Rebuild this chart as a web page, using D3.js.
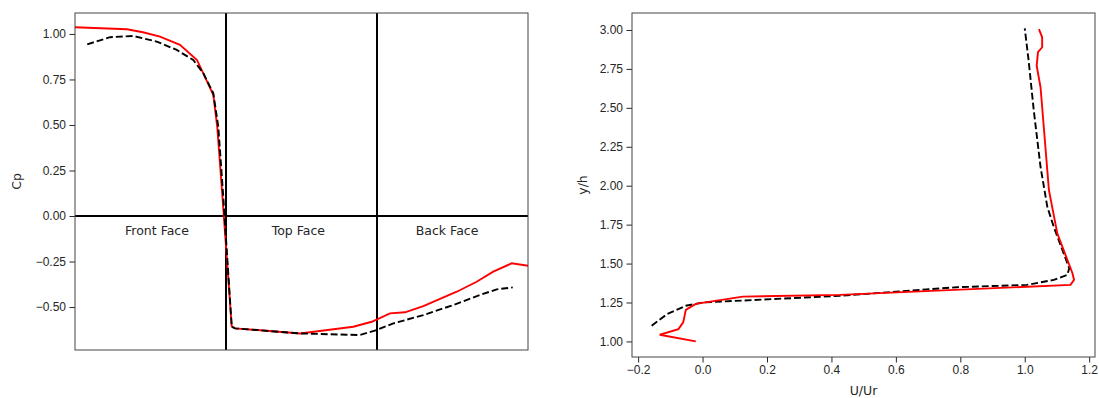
<!DOCTYPE html>
<meta charset="utf-8">
<style>
body { margin: 0; background: #fff; }
svg { font-family: "DejaVu Sans", sans-serif; }
.tick text { font-size: 12px; fill: #262626; }
.tick line { stroke: #262626; }
.domain { display: none; }
.frame { fill: none; stroke: #444; stroke-width: 1; }
.cut { stroke: #000; stroke-width: 2; }
.red { fill: none; stroke: #ff0000; stroke-width: 1.9; }
.blk { fill: none; stroke: #000; stroke-width: 1.9; stroke-dasharray: 6.9,3; }
.lbl { font-size: 12.5px; fill: #262626; }
</style>
<body>
<script src="https://d3js.org/d3.v7.min.js"></script>
<script>

// left panel: pressure coefficient along the building (0-1 front, 1-2 top, 2-3 back)
var cpRedS   = [0.0, 0.344, 0.45, 0.563, 0.695, 0.808, 0.916, 0.942, 0.978, 1.038, 1.06, 1.49, 1.843, 1.965, 2.086, 2.185, 2.307, 2.528, 2.66, 2.77, 2.892, 3.0];
var cpRed    = [1.037, 1.026, 1.009, 0.985, 0.94, 0.857, 0.665, 0.49, 0.088, -0.608, -0.617, -0.645, -0.608, -0.581, -0.535, -0.529, -0.495, -0.416, -0.361, -0.306, -0.26, -0.273];
var cpBlackS = [0.081, 0.232, 0.386, 0.541, 0.674, 0.783, 0.85, 0.916, 0.949, 0.982, 1.038, 1.06, 1.49, 1.887, 1.998, 2.108, 2.307, 2.505, 2.682, 2.793, 2.899];
var cpBlack  = [0.943, 0.982, 0.989, 0.958, 0.912, 0.857, 0.784, 0.674, 0.49, 0.106, -0.608, -0.617, -0.645, -0.654, -0.626, -0.59, -0.544, -0.489, -0.434, -0.403, -0.392];
var faceEdges = [1, 2];
var faceNames = ["Front Face", "Top Face", "Back Face"];
var faceLabelS = [0.543, 1.479, 2.464];
var faceLabelCp = -0.08;
var cpTicks = [-0.5, -0.25, 0, 0.25, 0.5, 0.75, 1.0];

// right panel: velocity profile
var uRed   = [-0.021, -0.133, -0.075, -0.06, -0.052, -0.021, 0.125, 0.426, 1.142, 1.153, 1.148, 1.101, 1.075, 1.049, 1.037, 1.041, 1.054, 1.054, 1.044];
var yhRed  = [1.0, 1.043, 1.079, 1.122, 1.203, 1.241, 1.288, 1.299, 1.363, 1.395, 1.438, 1.694, 1.971, 2.632, 2.771, 2.857, 2.889, 2.953, 3.006];
var uBlack  = [-0.158, -0.109, -0.052, -0.021, 0.0, 0.426, 0.789, 1.007, 1.09, 1.132, 1.138, 1.09, 1.07, 1.049, 1.028, 1.012, 1.0];
var yhBlack = [1.101, 1.177, 1.229, 1.241, 1.25, 1.293, 1.348, 1.363, 1.395, 1.427, 1.47, 1.736, 1.864, 2.12, 2.483, 2.803, 3.01];
var uTicks  = [-0.2, 0, 0.2, 0.4, 0.6, 0.8, 1.0, 1.2];
var yhTicks = [1.0, 1.25, 1.5, 1.75, 2.0, 2.25, 2.5, 2.75, 3.0];

var svg = d3.select("body").append("svg")
    .attr("width", 1099)
    .attr("height", 398);

var minus = function(s) { return s.replace("-", "\u2212"); };

function zip(xs, ys) {
  return xs.map(function(x, i) { return [x, ys[i]]; });
}

// ---- left panel
var L = {left: 75, right: 528, top: 13, bottom: 350};
var xL = d3.scaleLinear().domain([0, 3]).range([L.left, L.right]);
var yL = d3.scaleLinear().domain([-0.736, 1.115]).range([L.bottom, L.top]);

var gL = svg.append("g");

gL.append("g")
    .attr("transform", "translate(" + L.left + ",0)")
    .call(d3.axisLeft(yL).tickValues(cpTicks).tickSize(5.5).tickPadding(3.5)
      .tickFormat(function(d) { return minus(d3.format(".2f")(d)); }));

var lineL = d3.line()
    .x(function(d) { return xL(d[0]); })
    .y(function(d) { return yL(d[1]); });

gL.append("line").attr("class", "cut")
    .attr("x1", L.left).attr("x2", L.right)
    .attr("y1", yL(0)).attr("y2", yL(0));

gL.selectAll("line.v").data(faceEdges).enter().append("line")
    .attr("class", "cut v")
    .attr("x1", function(d) { return xL(d); }).attr("x2", function(d) { return xL(d); })
    .attr("y1", L.top).attr("y2", L.bottom);

gL.selectAll("text.face").data(faceNames).enter().append("text")
    .attr("class", "lbl face")
    .attr("x", function(d, i) { return xL(faceLabelS[i]); })
    .attr("y", yL(faceLabelCp))
    .attr("text-anchor", "middle")
    .attr("dominant-baseline", "central")
    .text(function(d) { return d; });

gL.append("path").datum(zip(cpRedS, cpRed)).attr("class", "red").attr("d", lineL);
gL.append("path").datum(zip(cpBlackS, cpBlack)).attr("class", "blk").attr("d", lineL);

gL.append("rect").attr("class", "frame")
    .attr("x", L.left).attr("y", L.top)
    .attr("width", L.right - L.left).attr("height", L.bottom - L.top);

gL.append("text").attr("class", "lbl")
    .attr("transform", "translate(16," + (L.top + L.bottom) / 2 + ") rotate(-90)")
    .attr("text-anchor", "middle")
    .attr("dominant-baseline", "central")
    .text("Cp");

// ---- right panel
var R = {left: 632, right: 1095, top: 13, bottom: 357};
var xR = d3.scaleLinear().domain([-0.219, 1.218]).range([R.left, R.right]);
var yR = d3.scaleLinear().domain([0.9, 3.109]).range([R.bottom, R.top]);

var gR = svg.append("g");

gR.append("g")
    .attr("transform", "translate(" + R.left + ",0)")
    .call(d3.axisLeft(yR).tickValues(yhTicks).tickSize(5.5).tickPadding(3.5)
      .tickFormat(d3.format(".2f")));

gR.append("g")
    .attr("transform", "translate(0," + R.bottom + ")")
    .call(d3.axisBottom(xR).tickValues(uTicks).tickSize(5.5).tickPadding(3)
      .tickFormat(function(d) { return minus(d3.format(".1f")(d)); }));

var lineR = d3.line()
    .x(function(d) { return xR(d[0]); })
    .y(function(d) { return yR(d[1]); });

gR.append("path").datum(zip(uBlack, yhBlack)).attr("class", "blk").attr("d", lineR);
gR.append("path").datum(zip(uRed, yhRed)).attr("class", "red").attr("d", lineR);

gR.append("rect").attr("class", "frame")
    .attr("x", R.left).attr("y", R.top)
    .attr("width", R.right - R.left).attr("height", R.bottom - R.top);

gR.append("text").attr("class", "lbl")
    .attr("transform", "translate(582," + (R.top + R.bottom) / 2 + ") rotate(-90)")
    .attr("text-anchor", "middle")
    .attr("dominant-baseline", "central")
    .text("y/h");

gR.append("text").attr("class", "lbl")
    .attr("x", (R.left + R.right) / 2)
    .attr("y", 390)
    .attr("text-anchor", "middle")
    .attr("dominant-baseline", "central")
    .text("U/Ur");

</script>
</body>
